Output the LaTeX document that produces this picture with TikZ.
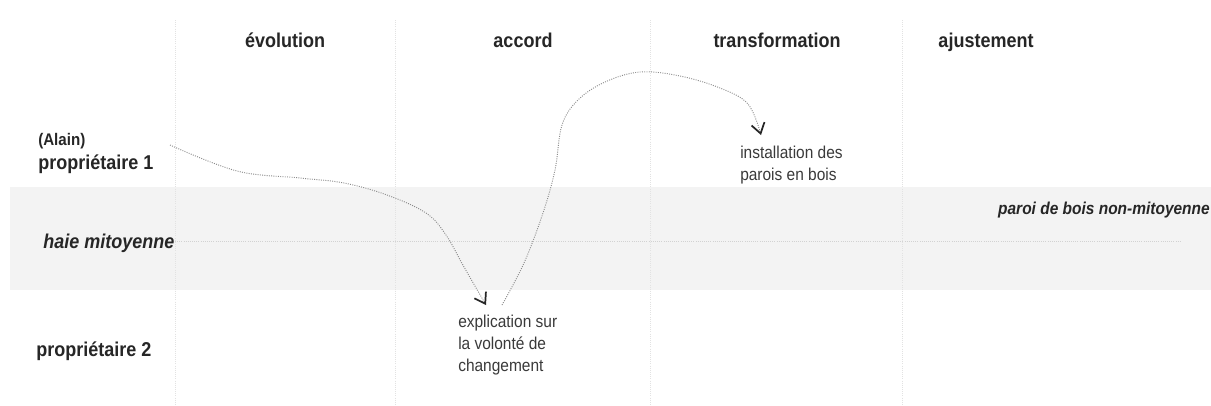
\documentclass[tikz,border=0pt]{standalone}
\usepackage{fontspec}
\setmainfont{Liberation Sans}[FakeStretch=0.9]
\usetikzlibrary{arrows.meta}
\definecolor{bandgrey}{HTML}{F3F3F3}
\definecolor{gridgrey}{HTML}{E2E2E2}
\definecolor{midgrey}{HTML}{D2D2D2}
\definecolor{curvegrey}{HTML}{8A8A8A}
\definecolor{textdark}{HTML}{262626}
\definecolor{textmid}{HTML}{3A3A3A}
\tikzset{
  lbl/.style={inner sep=0pt, text=textdark, font=\fontsize{15}{18}\selectfont\bfseries},
  lblit/.style={lbl, font=\fontsize{15}{18}\selectfont\bfseries\itshape},
  small/.style={inner sep=0pt, text=textdark, font=\fontsize{12.6}{15}\selectfont\bfseries},
  note/.style={inner sep=0pt, text=textmid, font=\fontsize{12.9}{16.5}\selectfont},
  paroi/.style={inner sep=0pt, text=textdark, font=\fontsize{12.9}{16}\selectfont\bfseries\itshape},
  gridline/.style={gridgrey, densely dotted, line width=0.6pt},
  midline/.style={midgrey, densely dotted, line width=0.6pt},
  flow/.style={curvegrey, densely dotted, line width=0.7pt,
    -{Straight Barb[length=7.5pt, width=10pt, line width=1.3pt, color=textdark]}}
}
\begin{document}
\begin{tikzpicture}[x=0.75pt, y=-0.75pt]
\useasboundingbox (0,0) rectangle (1211,405);
\fill[white] (0,0) rectangle (1211,405);
% band
\fill[bandgrey] (10,187) rectangle (1211,290);
% grid lines
\coordinate (v1t) at (175,20); \coordinate (v1b) at (175,405);
\coordinate (v2t) at (395,20); \coordinate (v2b) at (395,405);
\coordinate (v3t) at (650,20); \coordinate (v3b) at (650,405);
\coordinate (v4t) at (902,20); \coordinate (v4b) at (902,405);
\draw[gridline] (v1t) -- (v1b);
\draw[gridline] (v2t) -- (v2b);
\draw[gridline] (v3t) -- (v3b);
\draw[gridline] (v4t) -- (v4b);
\coordinate (hl) at (175,241); \coordinate (hr) at (1180,241);
\draw[midline] (hl) -- (hr);
% titles
\node[lbl, anchor=base] (t1) at (285,47) {évolution};
\node[lbl, anchor=base] (t2) at (523,47) {accord};
\node[lbl, anchor=base] (t3) at (777,47) {transformation};
\node[lbl, anchor=base] (t4) at (986,47) {ajustement};
% row labels
\node[small, anchor=base west] (alain) at (38,145) {(Alain)};
\node[lbl, anchor=base west] (p1) at (38,169) {propriétaire 1};
\node[lblit, anchor=base west] (haie) at (43,248) {haie mitoyenne};
\node[lbl, anchor=base west] (p2) at (36,356) {propriétaire 2};
\node[paroi, anchor=base east] (paroi) at (1210,214) {paroi de bois non-mitoyenne};
% notes
\node[note, anchor=base west] (expl) at (458,327)
  {\begin{tabular}[t]{@{}l@{}}explication sur\\la volonté de\\changement\end{tabular}};
\node[note, anchor=base west] (inst) at (740,158)
  {\begin{tabular}[t]{@{}l@{}}installation des\\parois en bois\end{tabular}};
% curve 1
\coordinate (a1) at (170,145);
\coordinate (a2) at (237,171);
\coordinate (a3) at (300,178);
\coordinate (a4) at (344,183);
\coordinate (a5) at (387,195);
\coordinate (a6) at (426,213);
\coordinate (a7) at (446,235);
\coordinate (a8) at (464,267);
\coordinate (a9) at (486,305);
\draw[flow] plot[smooth, tension=0.6] coordinates {(a1) (a2) (a3) (a4) (a5) (a6) (a7) (a8) (a9)};
% curve 2
\coordinate (b1) at (502,305);
\coordinate (b2) at (524,263);
\coordinate (b3) at (543,213);
\coordinate (b4) at (555,170);
\coordinate (b5) at (562,125);
\coordinate (b6) at (578,100);
\coordinate (b7) at (605,82);
\coordinate (b8) at (640,72);
\coordinate (b9) at (680,76);
\coordinate (b10) at (720,88);
\coordinate (b11) at (748,104);
\coordinate (b12) at (761,135);
\draw[flow] plot[smooth, tension=0.6] coordinates {(b1) (b2) (b3) (b4) (b5) (b6) (b7) (b8) (b9) (b10) (b11) (b12)};
\end{tikzpicture}
\end{document}
